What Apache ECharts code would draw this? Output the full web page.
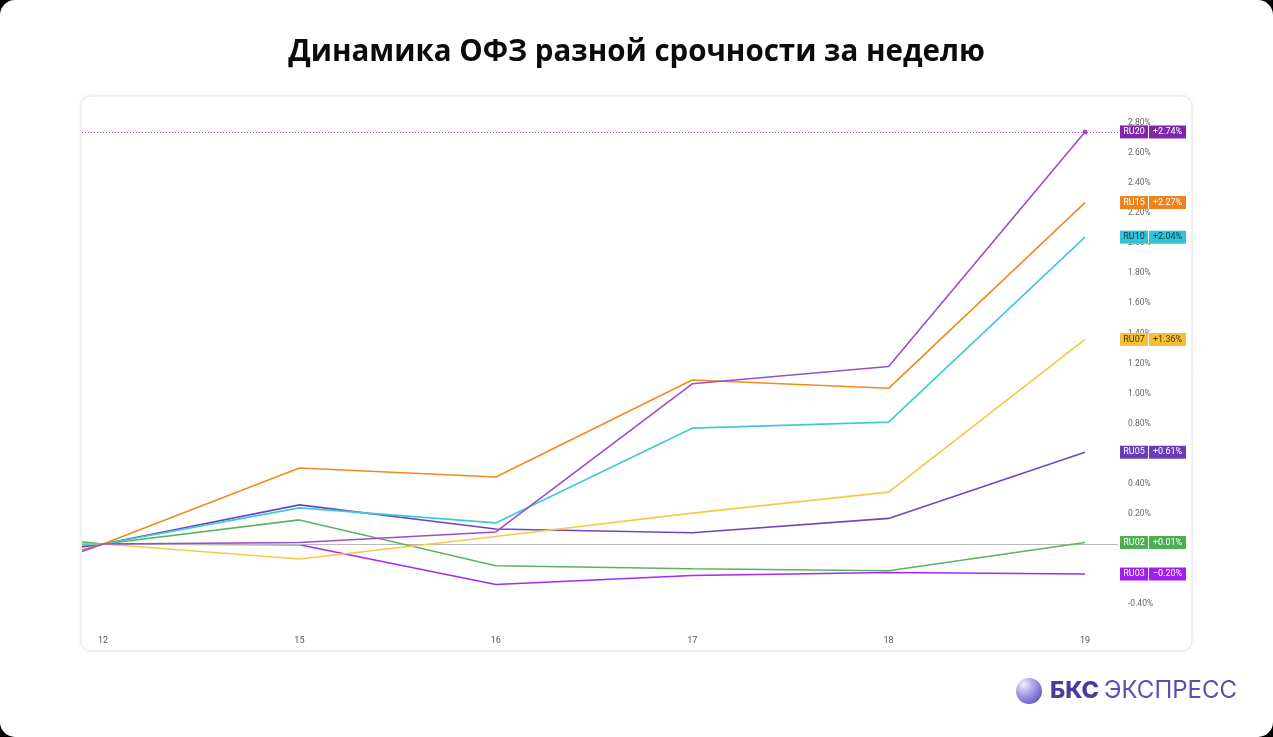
<!DOCTYPE html>
<html>
<head>
<meta charset="utf-8">
<script src="https://cdn.jsdelivr.net/npm/echarts@6/dist/echarts.min.js"></script>
<style>
  html, body { margin: 0; padding: 0; background: #000; }
  #main { width: 1273px; height: 737px; }
</style>
</head>
<body>
<div id="main"></div>
<script>
// trading days on the x axis; first point of each series is the previous close
const days = ['12', '15', '16', '17', '18', '19'];
const names = ['RU20', 'RU15', 'RU10', 'RU07', 'RU05', 'RU02', 'RU03'];

const ru20 = [-0.05, 0, 0.01, 0.08, 1.065, 1.18, 2.74];
const ru15 = [-0.04, 0, 0.505, 0.445, 1.09, 1.035, 2.27];
const ru10 = [0.0, 0, 0.24, 0.14, 0.77, 0.81, 2.04];
const ru07 = [-0.005, 0, -0.10, 0.05, 0.205, 0.345, 1.36];
const ru05 = [-0.02, 0, 0.26, 0.10, 0.075, 0.17, 0.61];
const ru02 = [0.015, 0, 0.16, -0.145, -0.165, -0.178, 0.01];
const ru03 = [-0.015, 0, -0.005, -0.27, -0.21, -0.19, -0.20];

const lineColors = ['#9b4dca', '#f28a1e', '#3ccbd9', '#f9c74a', '#6f47bb', '#5cb35e', '#a52bf0'];
const tagColors = ['#8026ad', '#f0821a', '#2fc4d5', '#f7c032', '#6a3db8', '#4caf50', '#a21ef0'];
const tagText = ['#fff', '#fff', '#133a48', '#4a3800', '#fff', '#fff', '#fff'];

const allValues = [ru20, ru15, ru10, ru07, ru05, ru02, ru03];
const startOffset = -0.107;

var chartDom = document.getElementById('main');
var myChart = echarts.init(chartDom, null, { renderer: 'canvas' });

function fmtPct(v) {
  return (v > 0 ? '+' : v < 0 ? '\u2212' : '+') + Math.abs(v).toFixed(2) + '%';
}

const series = names.map(function (name, k) {
  const vals = allValues[k];
  const s = {
    name: name,
    type: 'line',
    showSymbol: false,
    z: 10 - k,
    lineStyle: { width: 1.6, color: lineColors[k] },
    itemStyle: { color: lineColors[k] },
    data: vals.map(function (v, i) {
      return [i === 0 ? startOffset : i - 1, v];
    }),
    endLabel: {
      show: true,
      distance: 35,
      formatter: '{a|' + name + '}{s|}{b|' + fmtPct(vals[vals.length - 1]) + '}',
      rich: {
        a: {
          backgroundColor: tagColors[k], color: tagText[k], fontSize: 9,
          fontFamily: 'Roboto', width: 28, height: 13, lineHeight: 13, align: 'center'
        },
        s: { backgroundColor: 'rgba(255,255,255,0.7)', width: 1, height: 13 },
        b: {
          backgroundColor: tagColors[k], color: tagText[k], fontSize: 9,
          fontFamily: 'Roboto', width: 37, height: 13, lineHeight: 13, align: 'center'
        }
      }
    }
  };
  if (k === 0) {
    s.markLine = {
      silent: true,
      symbol: 'none',
      label: { show: false },
      data: [
        { yAxis: 0, lineStyle: { color: '#b8b8b8', width: 1, type: 'solid' } },
        { yAxis: vals[vals.length - 1], lineStyle: { color: lineColors[0], width: 1, type: [1, 2] } }
      ]
    };
    s.markPoint = {
      symbol: 'circle',
      symbolSize: 5,
      label: { show: false },
      itemStyle: { color: lineColors[0] },
      data: [{ coord: [days.length - 1, vals[vals.length - 1]] }]
    };
  }
  return s;
});

var option = {
  animation: false,
  title: {
    text: 'Динамика ОФЗ разной срочности за неделю',
    left: 'center',
    top: 33,
    textStyle: { fontFamily: 'Open Sans', fontWeight: 700, fontSize: 29.5, color: '#0b0b0b' }
  },
  graphic: [
    {
      type: 'rect', z: -20, silent: true,
      shape: { x: 0, y: 0, width: 1273, height: 737, r: 15 },
      style: { fill: '#ffffff' }
    },
    {
      type: 'rect', z: -10, silent: true,
      shape: { x: 81, y: 96, width: 1111, height: 555, r: 10 },
      style: {
        fill: '#ffffff', stroke: '#e6e6e8', lineWidth: 1,
        shadowBlur: 6, shadowColor: 'rgba(0,0,0,0.06)'
      }
    },
    {
      type: 'circle', z: 5, silent: true,
      shape: { cx: 1029, cy: 691, r: 13 },
      style: {
        fill: new echarts.graphic.RadialGradient(0.3, 0.25, 0.9, [
          { offset: 0, color: '#f1efff' },
          { offset: 0.45, color: '#a79ee6' },
          { offset: 1, color: '#5b4bbf' }
        ])
      }
    },
    {
      type: 'text', z: 5, silent: true,
      left: 1050, top: 679,
      style: { text: 'БКС', font: '800 23.5px Inter', fill: '#4a3c9e' }
    },
    {
      type: 'text', z: 5, silent: true,
      left: 1104, top: 679,
      style: { text: 'ЭКСПРЕСС', font: '400 24px Inter', fill: '#5a4db4' }
    }
  ],
  grid: { left: 82, top: 92.8, width: 1036, height: 541.4, containLabel: false },
  xAxis: {
    type: 'value',
    min: startOffset,
    max: 5.168,
    axisLine: { show: false },
    axisTick: { show: false },
    splitLine: { show: false },
    axisLabel: {
      customValues: [0, 1, 2, 3, 4, 5],
      margin: 2,
      fontSize: 9,
      fontFamily: 'Roboto',
      color: '#555',
      formatter: function (v) {
        const i = Math.round(v);
        return days[i] || '';
      }
    }
  },
  yAxis: {
    type: 'value',
    position: 'right',
    min: -0.6,
    max: 3.0,
    interval: 0.2,
    axisLine: { show: false },
    axisTick: { show: false },
    splitLine: { show: false },
    axisLabel: {
      margin: 10,
      fontSize: 8.5,
      fontFamily: 'Roboto',
      color: '#666',
      showMinLabel: false,
      showMaxLabel: false,
      formatter: function (v) {
        return (v < 0 ? '-' : '') + Math.abs(v).toFixed(2) + '%';
      }
    }
  },
  series: series
};

option && myChart.setOption(option);
</script>
</body>
</html>
